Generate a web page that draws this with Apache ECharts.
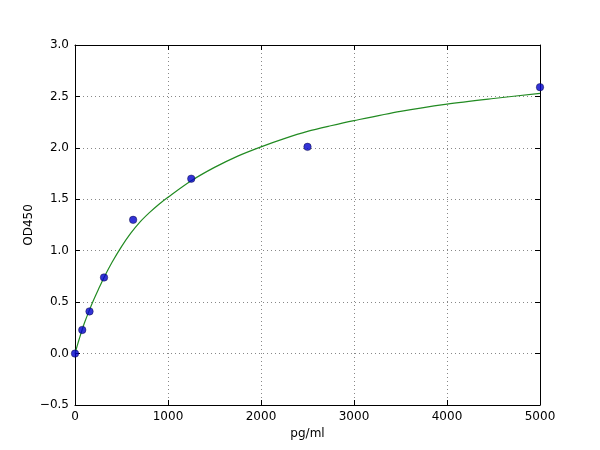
<!DOCTYPE html>
<html>
<head>
<meta charset="utf-8">
<script src="https://cdn.jsdelivr.net/npm/echarts@6/dist/echarts.min.js"></script>
<style>html,body{margin:0;padding:0;background:#fff;}#c{width:600px;height:450px;}</style>
</head>
<body>
<div id="c"></div>
<script>
const concentrations = [0, 78, 156, 312, 625, 1250, 2500, 5000];
const odValues = [0.0, 0.23, 0.41, 0.74, 1.30, 1.70, 2.01, 2.59];
const curveX = [0, 25, 50, 78, 100, 156, 200, 250, 312, 400, 500, 600, 700, 800, 900, 1000, 1250, 1500, 1750, 2000, 2250, 2500, 2750, 3000, 3500, 4000, 4500, 5000];
const curveY = [0, 0.08, 0.155, 0.235, 0.295, 0.425, 0.52, 0.62, 0.74, 0.89, 1.04, 1.17, 1.28, 1.37, 1.45, 1.52, 1.68, 1.81, 1.92, 2.01, 2.09, 2.16, 2.215, 2.265, 2.355, 2.425, 2.48, 2.53];

const font = 'DejaVu Sans';
const chart = echarts.init(document.getElementById('c'), null, {renderer: 'canvas'});
const fmtY = v => (v < 0 ? '\u2212' + Math.abs(v).toFixed(1) : v.toFixed(1));
const fmtX = v => String(v);
const axisLine = {show: true, onZero: false, lineStyle: {color: '#000', width: 1}};
const tick = {show: true, inside: true, length: 5, lineStyle: {color: '#000'}};
const split = {show: true, lineStyle: {color: '#888', type: [1, 3], width: 1}};

chart.setOption({
  animation: false,
  backgroundColor: '#fff',
  grid: {left: 75, right: 60, top: 45, bottom: 45, containLabel: false},
  xAxis: [
    {type: 'value', min: 0, max: 5000, interval: 1000, position: 'bottom',
     name: 'pg/ml', nameLocation: 'middle', nameGap: 22,
     nameTextStyle: {color: '#000', fontFamily: font, fontSize: 12},
     axisLine: axisLine, axisTick: tick, splitLine: split,
     axisLabel: {color: '#000', fontFamily: font, fontSize: 12, margin: 6, formatter: fmtX}},
    {type: 'value', min: 0, max: 5000, interval: 1000, position: 'top',
     axisLine: axisLine, axisTick: tick, splitLine: {show: false}, axisLabel: {show: false}}
  ],
  yAxis: [
    {type: 'value', min: -0.5, max: 3.0, interval: 0.5, position: 'left',
     name: 'OD450', nameLocation: 'middle', nameGap: 40, nameMoveOverlap: false,
     nameTextStyle: {color: '#000', fontFamily: font, fontSize: 12},
     axisLine: axisLine, axisTick: tick, splitLine: split,
     axisLabel: {color: '#000', fontFamily: font, fontSize: 12, margin: 6, formatter: fmtY}},
    {type: 'value', min: -0.5, max: 3.0, interval: 0.5, position: 'right',
     axisLine: axisLine, axisTick: tick, splitLine: {show: false}, axisLabel: {show: false}}
  ],
  series: [
    {type: 'line', data: curveX.map((x, i) => [x, curveY[i]]), smooth: 0.3, showSymbol: false,
     lineStyle: {color: '#228B22', width: 1.2}, z: 2},
    {type: 'scatter', data: concentrations.map((x, i) => [x, odValues[i]]), symbolSize: 7.5,
     itemStyle: {color: '#0000cc', borderColor: '#000022', borderWidth: 0.5}, z: 3}
  ]
});
</script>
</body>
</html>
